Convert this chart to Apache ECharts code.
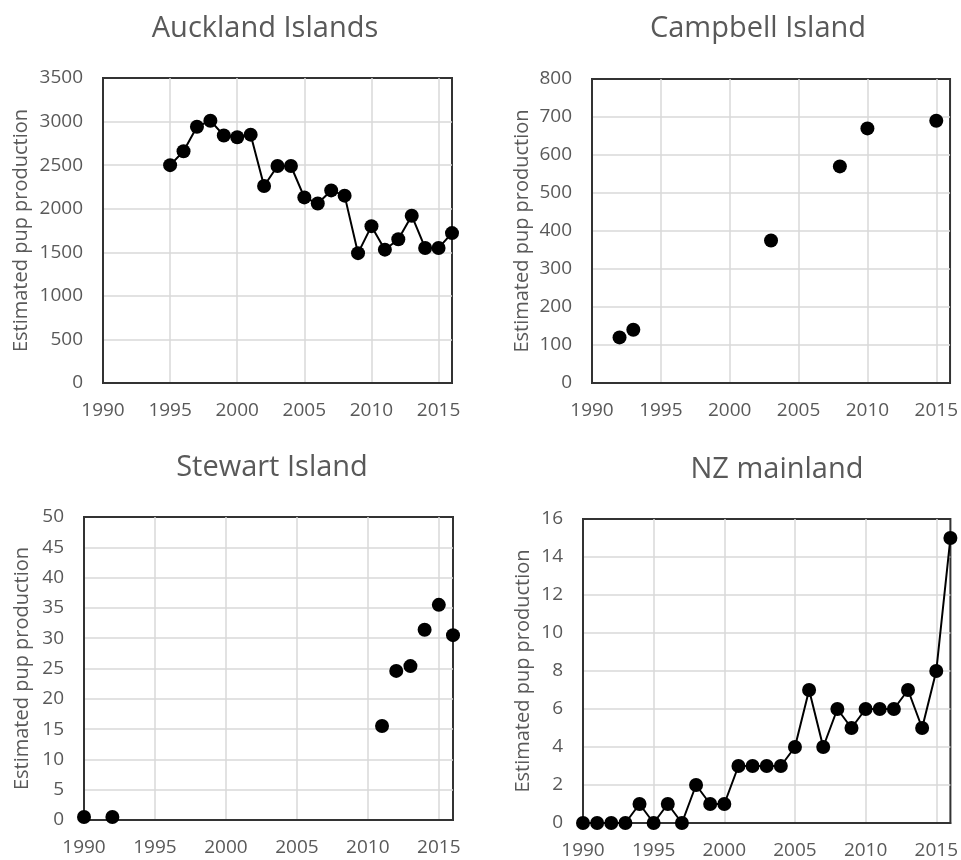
<!DOCTYPE html>
<html>
<head>
<meta charset="utf-8">
<script src="https://cdn.jsdelivr.net/npm/echarts@6/dist/echarts.min.js"></script>
<style>
html,body{margin:0;padding:0;background:#fff;}
#chart{width:961px;height:860px;}
</style>
</head>
<body>
<div id="chart"></div>
<script>
// ---- Data ----
const panelTitles = ["Auckland Islands", "Campbell Island", "Stewart Island", "NZ mainland"];
const yAxisName = "Estimated pup production";

const aucklandYears = [1995,1996,1997,1998,1999,2000,2001,2002,2003,2004,2005,2006,2007,2008,2009,2010,2011,2012,2013,2014,2015,2016];
const aucklandPups  = [2500,2660,2940,3010,2840,2820,2850,2260,2490,2490,2130,2060,2210,2150,1490,1800,1530,1650,1920,1550,1550,1720];

const campbellYears = [1992,1993,2003,2008,2010,2015];
const campbellPups  = [120,140,375,570,670,690];

const stewartYears = [1990,1992,2011,2012,2013,2014,2015,2016];
const stewartPups  = [0.5,0.5,15.5,24.6,25.4,31.4,35.5,30.5];

const mainlandYears = [1990,1991,1992,1993,1994,1995,1996,1997,1998,1999,2000,2001,2002,2003,2004,2005,2006,2007,2008,2009,2010,2011,2012,2013,2014,2015,2016];
const mainlandPups  = [0,0,0,0,1,0,1,0,2,1,1,3,3,3,3,4,7,4,6,5,6,6,6,7,5,8,15];

const yMax = [3500, 800, 50, 16];
const yInterval = [500, 100, 5, 2];

// ---- Layout ----
const FONT = "Open Sans";
const LABEL_COLOR = "#595959";
const grids = [
  {left:103, top:78,  width:349, height:305},
  {left:592, top:79,  width:359, height:304},
  {left:84,  top:517, width:369, height:303},
  {left:583, top:519, width:372, height:304}
];
const nameGaps = [72, 60, 52, 50];
const titlePos = [[265,14],[758,14],[272,453],[777,455]];

function zip(xs, ys){ return xs.map((x,i)=>[x, ys[i]]); }
const seriesData = [
  zip(aucklandYears, aucklandPups),
  zip(campbellYears, campbellPups),
  zip(stewartYears, stewartPups),
  zip(mainlandYears, mainlandPups)
];
const withLine = [true, false, false, true];

const option = {
  backgroundColor: "#fff",
  animation: false,
  title: panelTitles.map((t,i)=>({
    text: t, left: titlePos[i][0], top: titlePos[i][1], textAlign: "center", padding: 0,
    textStyle: {fontFamily: FONT, fontSize: 29, fontWeight: "normal", color: LABEL_COLOR}
  })),
  grid: grids.map(g=>Object.assign({show:true, borderColor:"#333333", borderWidth:2, backgroundColor:"transparent"}, g)),
  xAxis: grids.map((g,i)=>({
    type: "value", gridIndex: i, min: 1990, max: 2016, interval: 5,
    axisLine: {show:true, lineStyle:{color:"#333333", width:2}}, axisTick: {show:false},
    splitLine: {show:true, showMinLine:false, showMaxLine:false, lineStyle:{color:"#d9d9d9", width:1.5}},
    axisLabel: {showMaxLabel:false, margin: 18, fontFamily: FONT, fontSize: 19, color: LABEL_COLOR,
      formatter: v => String(v)}
  })),
  yAxis: grids.map((g,i)=>({
    type: "value", gridIndex: i, min: 0, max: yMax[i], interval: yInterval[i],
    name: yAxisName, nameLocation: "middle", nameGap: nameGaps[i],
    nameTextStyle: {fontFamily: FONT, fontSize: 20, color: LABEL_COLOR},
    axisLine: {show:true, lineStyle:{color:"#333333", width:2}}, axisTick: {show:false},
    splitLine: {show:true, showMinLine:false, showMaxLine:false, lineStyle:{color:"#d9d9d9", width:1.5}},
    axisLabel: {margin: 20, fontFamily: FONT, fontSize: 19, color: LABEL_COLOR,
      formatter: v => String(v)}
  })),
  series: seriesData.map((d,i)=>({
    type: withLine[i] ? "line" : "scatter",
    xAxisIndex: i, yAxisIndex: i,
    data: d,
    symbol: "circle", symbolSize: 14,
    clip: false,
    itemStyle: {color: "#000", opacity: 1},
    lineStyle: {color: "#000", width: 2},
    showSymbol: true
  }))
};

const chart = echarts.init(document.getElementById("chart"), null, {renderer: "canvas"});
chart.setOption(option);
</script>
</body>
</html>
